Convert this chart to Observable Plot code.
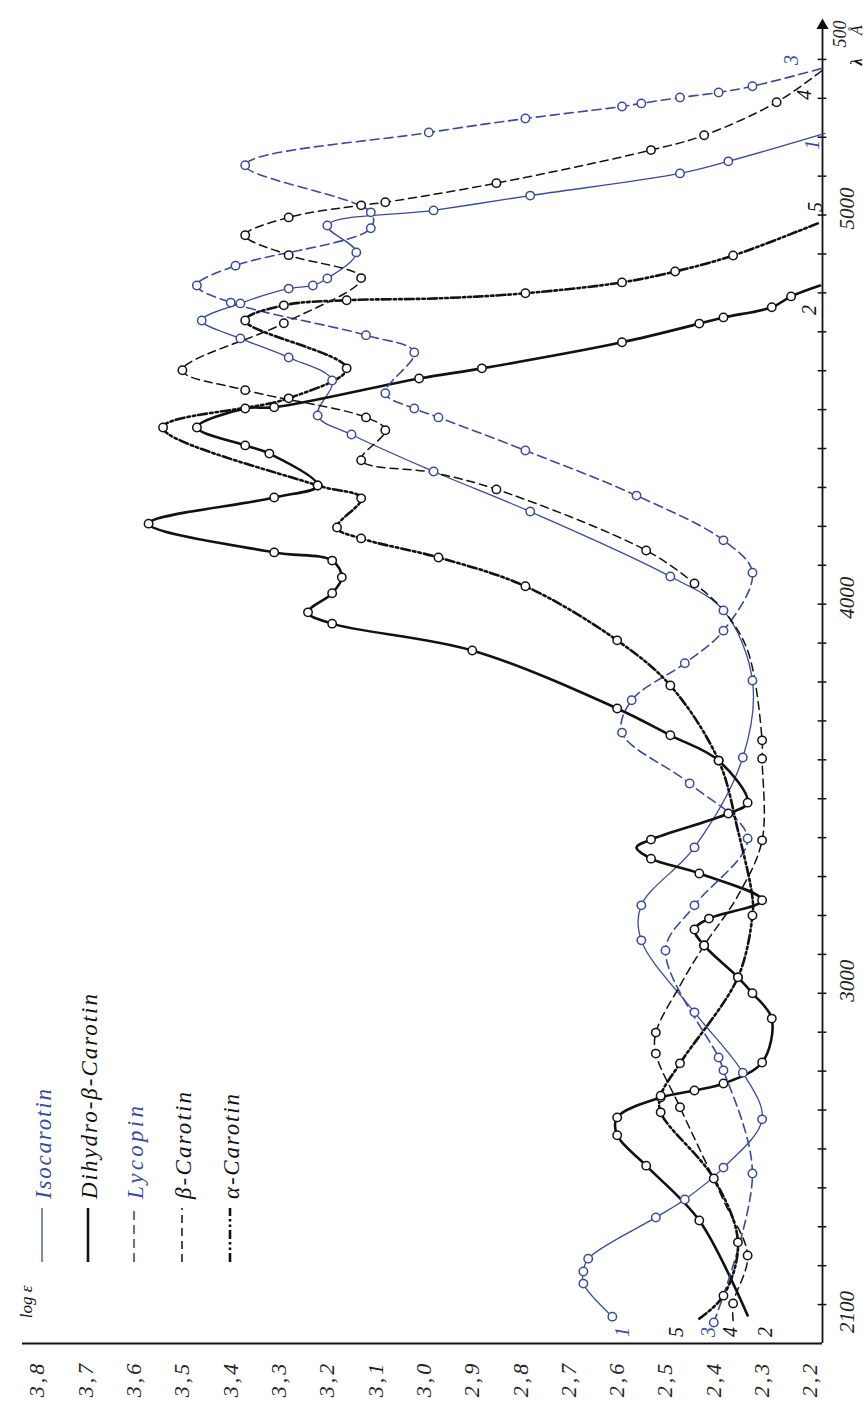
<!DOCTYPE html>
<html><head><meta charset="utf-8">
<script src="https://cdn.jsdelivr.net/npm/d3@7"></script>
<script src="https://cdn.jsdelivr.net/npm/@observablehq/plot@0.6"></script>
<style>
body{margin:0;background:#fff;}
#chart svg{display:block;}
</style>
</head><body><div id="chart"></div>
<script>
// Each point: [wavelength Å, log ε, circle marker 1/0]
const isocarotin = [
 [2169,2.61,1],[2254,2.67,1],[2285,2.67,1],[2318,2.66,1],[2424,2.52,1],[2470,2.46,1],[2552,2.38,1],
 [2676,2.30,1],[2796,2.34,1],[2951,2.44,1],[3136,2.55,1],[3226,2.55,1],[3375,2.44,1],[3606,2.34,1],
 [3804,2.32,1],[3984,2.38,1],[4071,2.49,1],[4238,2.78,1],[4341,2.98,1],[4436,3.15,1],[4485,3.22,1],
 [4575,3.19,1],[4634,3.28,1],[4683,3.38,1],[4729,3.46,1],[4773,3.38,1],[4811,3.28,1],[4819,3.23,1],
 [4837,3.20,1],[4904,3.14,1],[4973,3.20,1],[5012,2.98,1],[5050,2.78,1],[5107,2.47,1],[5138,2.37,1],[5210,2.17,0]
];
const dihydroBetaCarotin = [
 [2172,2.33,0],[2416,2.43,1],[2557,2.54,1],[2635,2.60,1],[2681,2.60,1],[2732,2.51,1],[2750,2.44,1],
 [2768,2.38,1],[2822,2.30,1],[2935,2.28,1],[3000,2.32,1],[3041,2.35,1],[3123,2.42,1],[3164,2.44,1],
 [3192,2.41,1],[3239,2.30,1],[3308,2.43,1],[3346,2.53,1],[3375,2.56,0],[3395,2.53,1],[3462,2.37,1],
 [3490,2.33,1],[3598,2.39,1],[3663,2.49,1],[3732,2.60,1],[3881,2.90,1],[3950,3.19,1],[3979,3.24,1],
 [4028,3.19,1],[4069,3.17,1],[4112,3.19,1],[4133,3.31,1],[4207,3.57,1],[4274,3.31,1],[4305,3.22,1],
 [4387,3.32,1],[4408,3.37,1],[4454,3.47,1],[4503,3.37,1],[4506,3.31,1],[4580,3.01,1],[4606,2.88,1],
 [4673,2.59,1],[4721,2.43,1],[4737,2.38,1],[4763,2.28,1],[4791,2.24,1],[4819,2.18,0]
];
const lycopin = [
 [2154,2.40,1],[2537,2.32,1],[2802,2.38,1],[2835,2.39,1],[3110,2.50,1],[3226,2.44,1],[3398,2.33,1],
 [3539,2.45,1],[3670,2.59,1],[3753,2.57,1],[3848,2.46,1],[3932,2.38,1],[4081,2.32,1],[4164,2.38,1],
 [4279,2.56,1],[4395,2.79,1],[4480,2.97,1],[4503,3.02,1],[4542,3.08,1],[4647,3.02,1],[4691,3.12,1],
 [4775,3.40,1],[4819,3.47,1],[4870,3.39,1],[4966,3.11,1],[5007,3.11,1],[5128,3.37,1],[5212,2.99,1],
 [5248,2.79,1],[5279,2.59,1],[5287,2.55,1],[5302,2.47,1],[5315,2.39,1],[5331,2.32,1],[5379,2.17,0]
];
const betaCarotin = [
 [2159,2.36,0],[2203,2.36,1],[2326,2.33,1],[2468,2.38,0],[2707,2.47,1],[2845,2.52,1],[2899,2.52,1],
 [3020,2.47,0],[3123,2.42,1],[3251,2.35,0],[3393,2.30,1],[3603,2.30,1],[3650,2.30,1],[3881,2.33,0],
 [3984,2.38,0],[4053,2.44,1],[4138,2.54,1],[4295,2.85,1],[4338,2.98,0],[4370,3.13,1],[4447,3.08,1],
 [4480,3.12,1],[4550,3.37,1],[4601,3.50,1],[4722,3.29,1],[4838,3.13,1],[4897,3.28,1],[4948,3.37,1],
 [4994,3.28,1],[5025,3.13,1],[5033,3.08,1],[5082,2.85,1],[5167,2.53,1],[5205,2.42,1],[5290,2.27,1],[5377,2.17,0]
];
const alphaCarotin = [
 [2164,2.43,0],[2223,2.38,1],[2360,2.35,1],[2524,2.40,1],[2694,2.51,1],[2737,2.51,1],[2820,2.47,1],
 [3041,2.35,1],[3200,2.32,1],[3246,2.32,0],[3418,2.35,0],[3598,2.39,1],[3791,2.49,1],[3907,2.60,1],
 [4046,2.79,1],[4120,2.97,1],[4169,3.13,1],[4197,3.18,1],[4272,3.13,1],[4305,3.22,1],[4454,3.54,1],
 [4529,3.28,1],[4606,3.16,1],[4729,3.37,1],[4768,3.29,1],[4781,3.16,1],[4786,2.97,0],[4799,2.79,1],
 [4827,2.59,1],[4855,2.48,1],[4896,2.36,1],[4981,2.18,0]
];

const logTicks = [3.8,3.7,3.6,3.5,3.4,3.3,3.2,3.1,3.0,2.9,2.8,2.7,2.6,2.5,2.4,2.3,2.2];
const lambdaTicks = d3.range(2200, 5500, 100);
const lambdaLabels = [2100, 3000, 4000, 5000, 5500];
const lambdaLabelText = ["2100", "3000", "4000", "5000", "500"];
const curveNumbers = ["1", "2", "3", "4", "5"];

const BLUE = "#3a4b9e";
const series = [
  {name: "Isocarotin", data: isocarotin, color: BLUE, width: 1.3, dash: null},
  {name: "Dihydro-β-Carotin", data: dihydroBetaCarotin, color: "#111", width: 2.6, dash: null},
  {name: "Lycopin", data: lycopin, color: BLUE, width: 1.6, dash: "9,5"},
  {name: "β-Carotin", data: betaCarotin, color: "#111", width: 1.5, dash: "8,5"},
  {name: "α-Carotin", data: alphaCarotin, color: "#111", width: 2.6, dash: "9,3,2.5,3,2.5,3"}
];

const X0 = 3.831, X1 = 2.175;
const font = "'Liberation Serif', 'DejaVu Serif', serif";

const marks = [];
marks.push(Plot.ruleY([2100], {x1: X0, x2: X1, stroke: "#111", strokeWidth: 2}));
marks.push(Plot.ruleX([X1], {y1: 2100, y2: 5480, stroke: "#111", strokeWidth: 1.8}));
marks.push(Plot.dot([5500], {x: () => X1, y: d => d, symbol: "triangle", r: 4.5, fill: "#111", stroke: "none", dy: 5}));
marks.push(Plot.ruleY(lambdaTicks, {y: d => d, x1: X1 + 0.009, x2: X1 - 0.009, stroke: "#111", strokeWidth: 1.5}));
for (const s of series) {
  marks.push(Plot.line(s.data, {x: d => d[1], y: d => d[0], stroke: s.color, strokeWidth: s.width,
    strokeDasharray: s.dash, curve: "catmull-rom"}));
}
for (const s of series) {
  marks.push(Plot.dot(s.data.filter(d => d[2] === 1), {x: d => d[1], y: d => d[0], r: 4.2, fill: "white",
    stroke: s.color, strokeWidth: 1.5}));
}

const chart = Plot.plot({
  width: 867, height: 1406,
  marginTop: 20, marginBottom: 63, marginLeft: 22, marginRight: 45,
  x: {domain: [X0, X1], axis: null},
  y: {domain: [2100, 5500], axis: null},
  style: {background: "white", overflow: "visible"},
  marks
});
document.getElementById("chart").appendChild(chart);

const sx = v => chart.scale("x").apply(v);
const sy = v => chart.scale("y").apply(v);
const svg = d3.select(chart);
const g = svg.append("g");
function rtext(x, y, str, size, fill, anchor = "middle", extra = {}) {
  const t = g.append("text").attr("transform", `translate(${x},${y}) rotate(-90)`)
    .attr("dominant-baseline", "central").attr("text-anchor", anchor)
    .attr("font-family", font).attr("font-style", "italic").attr("font-size", size).attr("fill", fill);
  for (const k in extra) t.attr(k, extra[k]);
  return t.text(str);
}

// log ε tick labels along the bottom
logTicks.forEach(v => rtext(sx(v), sy(2100) + 36, v.toFixed(1).replace(".", ","), 22, "#222", "middle", {"letter-spacing": 3}));
// wavelength labels along the right
lambdaLabels.forEach((l, i) => {
  const off = [-31, -12, -6, -6, 14][i];
  const dxo = i === 4 ? 18 : 25;
  rtext(sx(X1) + dxo, sy(l) + off, lambdaLabelText[i], i === 4 ? 18 : 21, "#222");
});
rtext(856, 30, "Å", 16, "#111");
rtext(856, 62, "λ", 16, "#111", "middle", {"font-weight": "bold"});

// curve numbers: bottom (start) and top (end)
const startOff = [10, 18, -5, -3, -23];
const endOff = [[-12, 12], [-11, 25], [-33, -7], [-20, 27], [-5, -15]];
series.forEach((s, i) => {
  const a = s.data[0], b = s.data[s.data.length - 1];
  rtext(sx(a[1]) + startOff[i], sy(2100) - 11, curveNumbers[i], 20, s.color);
  rtext(sx(b[1]) + endOff[i][0], sy(b[0]) + endOff[i][1], curveNumbers[i], 20, s.color);
});

// legend (lower-left corner)
const legX = [42, 88, 134, 182, 230];
const legLen = [110, 205, 93, 107, 105];
series.forEach((s, i) => {
  g.append("line").attr("x1", legX[i]).attr("x2", legX[i]).attr("y1", 1262).attr("y2", 1208)
    .attr("stroke", s.color).attr("stroke-width", s.width).attr("stroke-dasharray", s.dash);
  rtext(legX[i] + 1, 1199, s.name, 23, s.color === BLUE ? BLUE : "#111", "start",
    {"textLength": legLen[i], "lengthAdjust": "spacing"});
});
rtext(26, 1302, "log ε", 17, "#111");
</script></body></html>
